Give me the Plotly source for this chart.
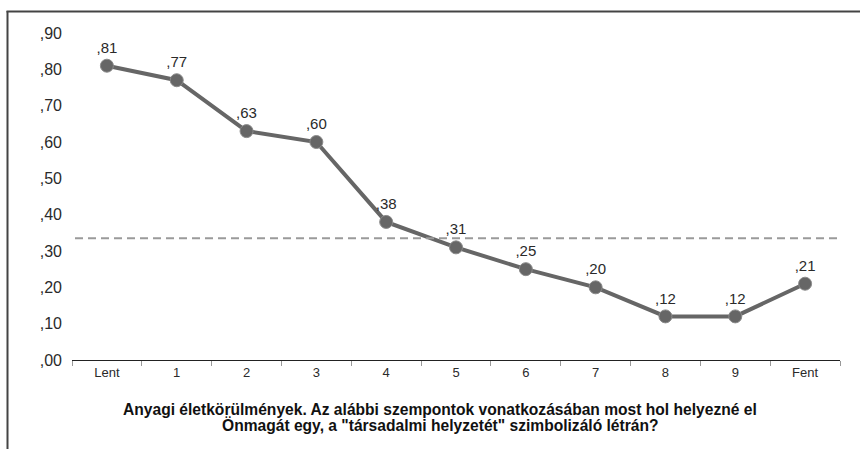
import plotly.graph_objects as go

categories = ["Lent", "1", "2", "3", "4", "5", "6", "7", "8", "9", "Fent"]
values = [0.81, 0.77, 0.63, 0.60, 0.38, 0.31, 0.25, 0.20, 0.12, 0.12, 0.21]
reference_value = 0.335
y_tick_values = [0.0, 0.1, 0.2, 0.3, 0.4, 0.5, 0.6, 0.7, 0.8, 0.9]
y_tick_labels = [",00", ",10", ",20", ",30", ",40", ",50", ",60", ",70", ",80", ",90"]
title_lines = ["Anyagi életkörülmények. Az alábbi szempontok vonatkozásában most hol helyezné el",
               "Önmagát egy, a \"társadalmi helyzetét\" szimbolizáló létrán?"]

labels = ["," + f"{v:.2f}".split(".")[1] for v in values]

W, H = 860, 449
L, R, T, B = 72, 20, 33, 89
pw, ph = W - L - R, H - T - B
FONT = "Liberation Sans, Arial, sans-serif"

def px(x):
    return (x - L) / pw

def py(y):
    return (H - B - y) / ph

fig = go.Figure()

fig.add_trace(go.Scatter(
    x=categories, y=values, mode="lines+markers+text",
    line=dict(color="#666666", width=4),
    marker=dict(size=13, color="#666666", line=dict(color="#8a8a8a", width=1)),
    text=labels, textposition="top center",
    textfont=dict(family=FONT, size=15, color="#2a2a2a"),
    cliponaxis=False, showlegend=False, hoverinfo="skip",
))

shapes = [
    dict(type="line", xref="paper", yref="y", x0=px(75), x1=px(837),
         y0=reference_value, y1=reference_value,
         line=dict(color="#9a9a9a", width=2, dash="8px,5px")),
    dict(type="line", xref="paper", yref="paper",
         x0=px(7.5), x1=px(7.5), y0=py(11), y1=py(452),
         line=dict(color="#444444", width=2)),
    dict(type="line", xref="paper", yref="paper",
         x0=px(6.5), x1=px(862), y0=py(11.5), y1=py(11.5),
         line=dict(color="#444444", width=2)),
]

annotations = [
    dict(text="<b>" + line + "</b>", xref="paper", yref="paper",
         x=px(440), y=py(y), xanchor="center", yanchor="middle", showarrow=False,
         font=dict(family=FONT, size=15.6, color="#111111"))
    for line, y in zip(title_lines, [409, 425])
]

fig.update_layout(
    width=W, height=H,
    margin=dict(l=L, r=R, t=T, b=B, pad=0),
    paper_bgcolor="white", plot_bgcolor="white",
    font=dict(family=FONT, color="#222222"),
    xaxis=dict(
        type="category", range=[-0.5, len(categories) - 0.5], automargin=False,
        showline=True, linecolor="#222222", linewidth=1,
        ticks="outside", tickson="boundaries", ticklen=5, tickcolor="#999999",
        showgrid=False, zeroline=False,
        tickfont=dict(size=13, color="#2a2a2a"),
    ),
    yaxis=dict(
        range=[0, 0.9], tickvals=y_tick_values, ticktext=y_tick_labels, automargin=False,
        showline=False, showgrid=False, zeroline=False, ticks="",
        tickfont=dict(size=16, color="#2a2a2a"), ticklabelstandoff=9,
    ),
    shapes=shapes,
    annotations=annotations,
)

fig.write_html(
    "out.html",
    config={"displayModeBar": False, "staticPlot": True},
    post_script="document.body.style.margin='0';document.body.style.overflow='hidden';",
)
